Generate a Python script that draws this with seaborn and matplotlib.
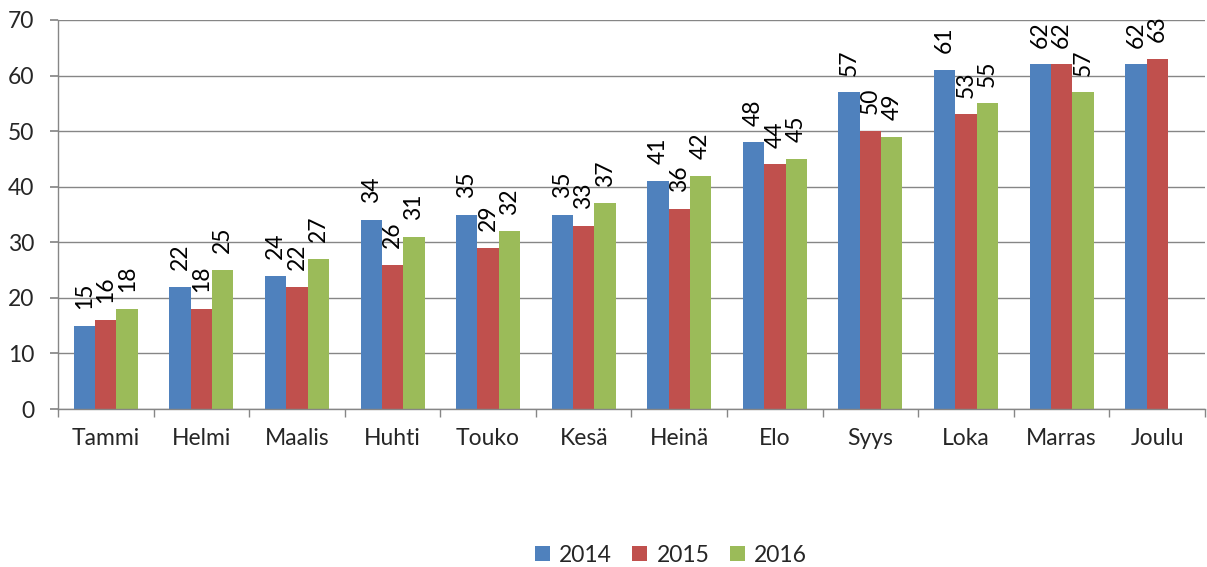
import matplotlib
matplotlib.use("Agg")
import matplotlib.pyplot as plt
import seaborn as sns
import pandas as pd
import numpy as np
from matplotlib.ticker import FixedLocator

months = ["Tammi", "Helmi", "Maalis", "Huhti", "Touko", "Kesä",
          "Heinä", "Elo", "Syys", "Loka", "Marras", "Joulu"]
years = ["2014", "2015", "2016"]
v2014 = [15, 22, 24, 34, 35, 35, 41, 48, 57, 61, 62, 62]
v2015 = [16, 18, 22, 26, 29, 33, 36, 44, 50, 53, 62, 63]
v2016 = [18, 25, 27, 31, 32, 37, 42, 45, 49, 55, 57, np.nan]
colors = ["#4F81BD", "#C0504D", "#9BBB59"]

df = pd.DataFrame({
    "kuukausi": months * 3,
    "vuosi": [y for y in years for _ in months],
    "arvo": v2014 + v2015 + v2016,
})

sns.set_theme(style="white")
plt.rcParams["font.family"] = ["Lato", "DejaVu Sans"]
FS = 16.5

fig = plt.figure(figsize=(12.07, 5.67), dpi=100)
ax = fig.add_axes([58 / 1207, 1 - 409 / 567, (1205 - 58) / 1207, (409 - 20) / 567])

sns.barplot(data=df.dropna(), x="kuukausi", y="arvo", hue="vuosi",
            order=months, hue_order=years, palette=colors, saturation=1,
            width=0.67, gap=0, linewidth=0, ax=ax)

for cont in ax.containers:
    ax.bar_label(cont, fmt="{:.0f}", rotation=90, padding=12,
                 fontsize=FS, color="black")

ax.set_ylim(0, 70)
ax.set_xlim(-0.5, len(months) - 0.5)
ax.set_yticks(range(0, 71, 10))
ax.set_xlabel("")
ax.set_ylabel("")
ax.grid(axis="y", color="#868686", linewidth=1)
ax.set_axisbelow(True)
for s in ["top", "right"]:
    ax.spines[s].set_visible(False)
for s in ["left", "bottom"]:
    ax.spines[s].set_color("#868686")
    ax.spines[s].set_linewidth(1)

ax.tick_params(axis="y", which="major", length=6, color="#868686",
               labelsize=FS, pad=11, left=True)
ax.tick_params(axis="x", which="major", length=0, labelsize=FS, pad=14)
ax.xaxis.set_minor_locator(FixedLocator(np.arange(-0.5, len(months), 1)))
ax.tick_params(axis="x", which="minor", length=6, color="#868686",
               width=1, bottom=True)

handles, labels = ax.get_legend_handles_labels()
ax.get_legend().remove()
fig.legend(handles, labels, loc="center", bbox_to_anchor=(671 / 1207, 1 - 555 / 567),
           ncol=3, frameon=False, fontsize=FS, handlelength=0.65, handleheight=0.65,
           handletextpad=0.4, columnspacing=0.9)

fig.savefig("out.png", dpi=100)
